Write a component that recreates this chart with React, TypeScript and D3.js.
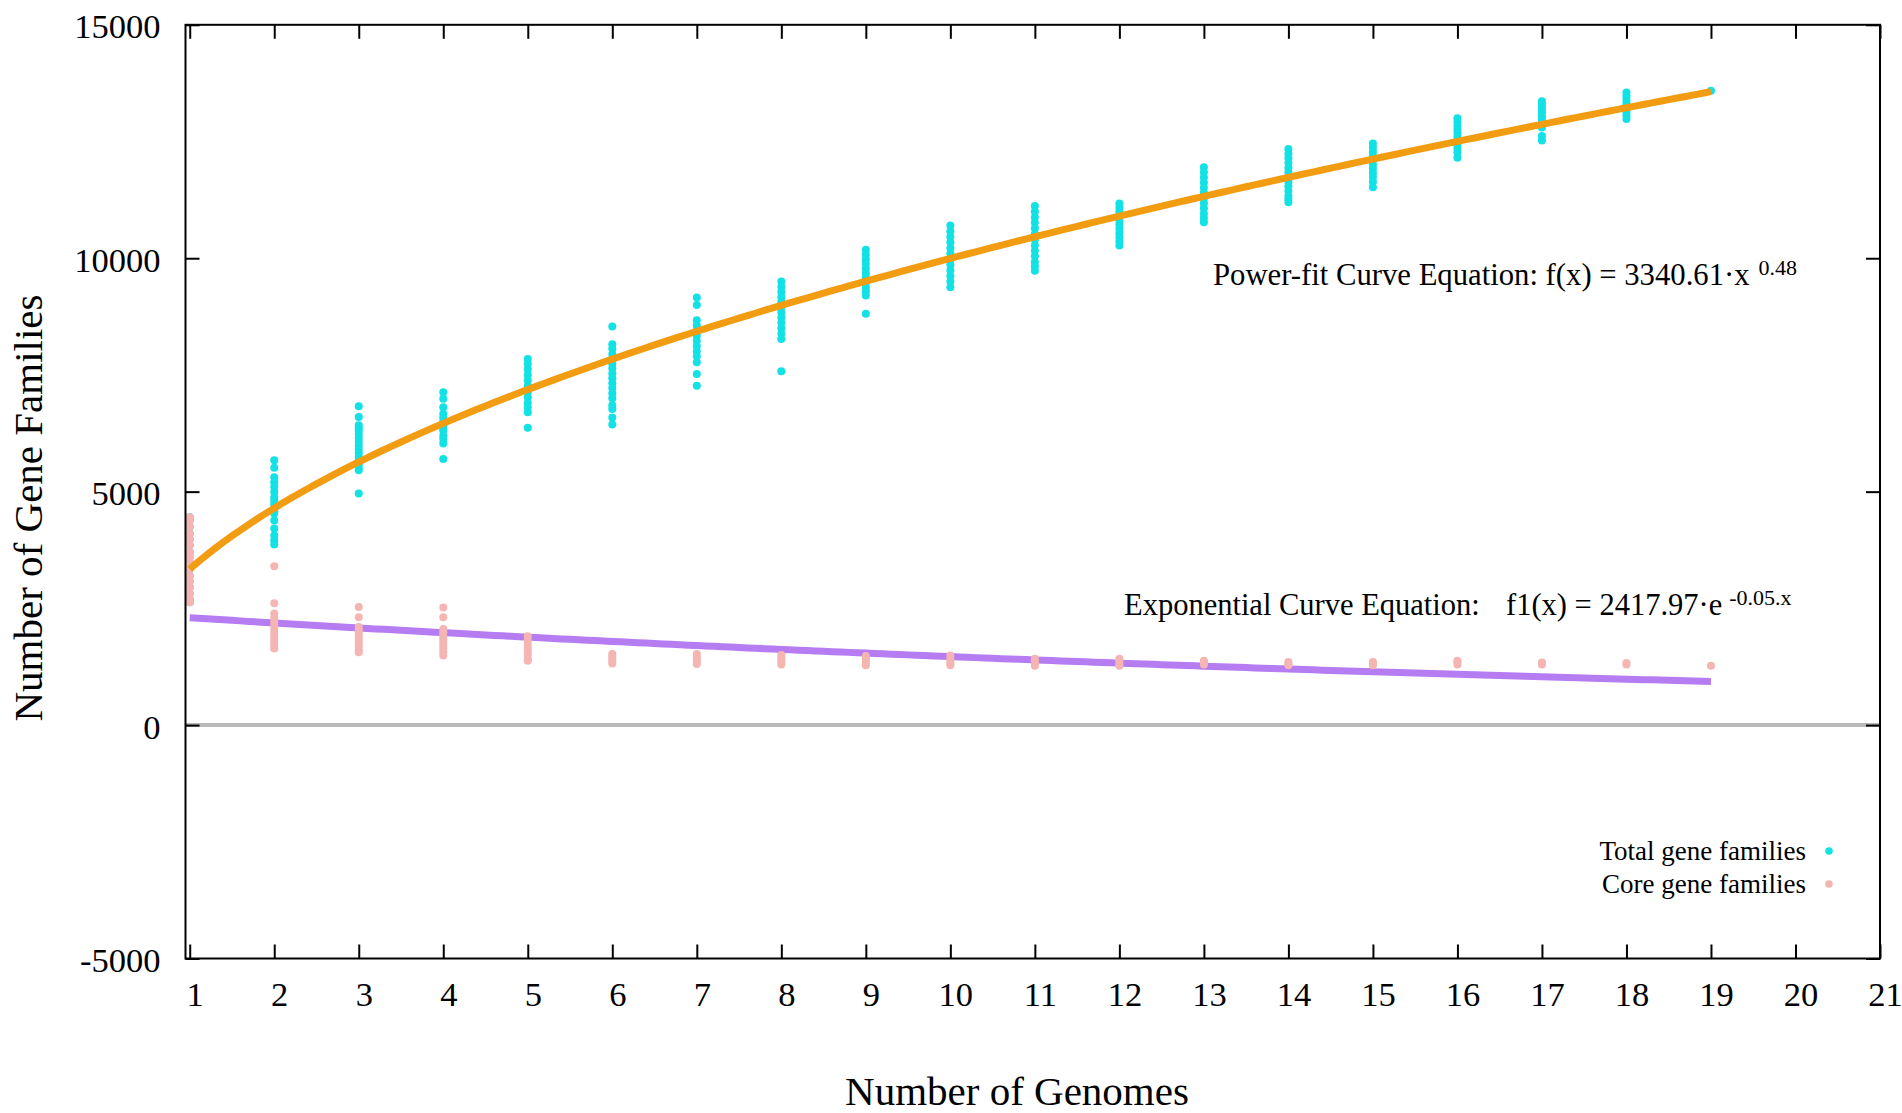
import * as d3 from "d3";
import React, { useRef, useEffect } from "react";

// number of genomes sampled (x positions of the point columns)
const genomeCounts = [1, 2, 3, 4, 5, 6, 7, 8, 9, 10, 11, 12, 13, 14, 15, 16, 17, 18, 19];

// pan-genome (total gene families) per permutation, one list per genome count
const totalFamilies = [
  [4450, 4380, 4250, 4100, 3980, 3850, 3700, 3600, 3480, 3350, 3200, 3080, 2950, 2820, 2700, 2630],
  [5670, 5510, 5310, 5200, 5100, 4990, 4880, 4800, 4720, 4640, 4580, 4530, 4380, 4210, 4060, 3960, 3870],
  [6830, 6600, 6420, 6360, 6310, 6230, 6150, 6070, 5990, 5910, 5830, 5750, 5670, 5590, 5510, 5460, 4960],
  [7130, 6990, 6810, 6670, 6590, 6510, 6430, 6350, 6310, 6200, 6130, 6030, 5700],
  [7840, 7740, 7620, 7500, 7380, 7260, 7140, 7020, 6900, 6800, 6700, 6370],
  [8540, 8160, 8060, 7950, 7850, 7740, 7640, 7530, 7430, 7320, 7220, 7110, 7000, 6850, 6770, 6590, 6440],
  [9160, 9000, 8670, 8560, 8450, 8340, 8230, 8120, 8010, 7900, 7770, 7520, 7270],
  [9500, 9390, 9280, 9170, 9060, 8950, 8840, 8730, 8620, 8500, 8380, 8270, 7580],
  [10180, 10080, 9980, 9880, 9780, 9680, 9580, 9480, 9380, 9290, 9200, 8810],
  [10700, 10580, 10460, 10340, 10220, 10100, 9980, 9860, 9740, 9620, 9500, 9380],
  [11120, 11000, 10880, 10760, 10640, 10520, 10400, 10280, 10160, 10040, 9920, 9830, 9730],
  [11170, 11080, 10990, 10900, 10810, 10720, 10630, 10540, 10450, 10360, 10270],
  [11950, 11840, 11730, 11620, 11510, 11400, 11290, 11180, 11070, 10960, 10860, 10770],
  [12340, 12240, 12140, 12040, 11940, 11840, 11740, 11640, 11540, 11440, 11340, 11270, 11200],
  [12460, 12370, 12280, 12190, 12100, 12010, 11920, 11830, 11740, 11640, 11520],
  [13000, 12920, 12840, 12760, 12680, 12600, 12520, 12440, 12360, 12270, 12150],
  [13360, 13280, 13200, 13120, 13040, 12960, 12880, 12800, 12620, 12520],
  [13550, 13480, 13410, 13340, 13270, 13200, 13130, 13060, 12980],
  [13590],
];

// core genome (core gene families) per permutation
const coreFamilies = [
  [4450, 4380, 4250, 4100, 3980, 3850, 3700, 3600, 3480, 3350, 3200, 3080, 2950, 2820, 2700, 2630],
  [3400, 2610, 2390, 2300, 2220, 2150, 2080, 2000, 1920, 1850, 1780, 1700, 1640],
  [2530, 2310, 2100, 2030, 1960, 1890, 1820, 1750, 1680, 1610, 1560],
  [2520, 2310, 2060, 1990, 1920, 1850, 1780, 1710, 1640, 1570, 1490],
  [1900, 1820, 1740, 1660, 1580, 1500, 1420, 1380],
  [1520, 1470, 1420, 1370, 1320],
  [1520, 1470, 1420, 1370, 1310],
  [1500, 1450, 1400, 1350, 1300],
  [1480, 1430, 1380, 1330, 1280],
  [1490, 1420, 1370, 1320, 1280],
  [1420, 1370, 1320, 1270],
  [1420, 1370, 1320, 1270],
  [1380, 1340, 1300],
  [1350, 1310, 1280],
  [1350, 1310, 1280],
  [1380, 1340, 1300],
  [1340, 1300],
  [1330, 1300],
  [1270],
];

const xTicks = [1, 2, 3, 4, 5, 6, 7, 8, 9, 10, 11, 12, 13, 14, 15, 16, 17, 18, 19, 20, 21];
const yTicks = [-5000, 0, 5000, 10000, 15000];

// fitted curves (exponent of the power fit is shown rounded as 0.48)
const powerA = 3340.61;
const powerB = 0.476;
const expA = 2417.97;
const expB = -0.05;

const legendLabels = ["Total gene families", "Core gene families"];

const FONT = '"Liberation Serif", "Times New Roman", Times, serif';

const App: React.FC = () => {
  const svgRef = useRef<SVGSVGElement | null>(null);

  useEffect(() => {
    const width = 1902;
    const height = 1113;
    const colors = { total: "#12e1e5", core: "#f4b5b3", power: "#f29c12", exp: "#b67cf1" };

    const x = d3.scaleLinear().domain([0.95, 21]).range([185.5, 1880]);
    const y = d3.scaleLinear().domain([-5000, 15000]).range([958.5, 24.8]);
    const [x0, x1] = x.range();
    const [y0, y1] = y.range();

    const svg = d3.select(svgRef.current)
      .attr("width", width)
      .attr("height", height)
      .style("background", "#fff")
      .html("");

    // zero line
    svg.append("line")
      .attr("x1", x0).attr("x2", x1)
      .attr("y1", y(0)).attr("y2", y(0))
      .attr("stroke", "#b9b9b9")
      .attr("stroke-width", 4);

    const toPoints = (lists: number[][]) =>
      genomeCounts.flatMap((g, i) => lists[i].map(v => ({ g, v })));

    // total gene families
    svg.append("g")
      .selectAll("circle")
      .data(toPoints(totalFamilies))
      .join("circle")
      .attr("cx", d => x(d.g))
      .attr("cy", d => y(d.v))
      .attr("r", 4)
      .attr("fill", colors.total);

    const samples = d3.range(1, 19.0001, 0.1);
    const line = d3.line<number[]>().x(d => x(d[0])).y(d => y(d[1]));

    // exponential fit of core
    svg.append("path")
      .attr("d", line(samples.map(s => [s, expA * Math.exp(expB * s)])))
      .attr("fill", "none")
      .attr("stroke", colors.exp)
      .attr("stroke-width", 7);

    // core gene families
    svg.append("g")
      .selectAll("circle")
      .data(toPoints(coreFamilies))
      .join("circle")
      .attr("cx", d => x(d.g))
      .attr("cy", d => y(d.v))
      .attr("r", 4)
      .attr("fill", colors.core);

    // power fit of pan
    svg.append("path")
      .attr("d", line(samples.map(s => [s, powerA * Math.pow(s, powerB)])))
      .attr("fill", "none")
      .attr("stroke", colors.power)
      .attr("stroke-width", 7);

    // axes, ticks pointing inward on all four sides
    const styleAxis = (g: d3.Selection<SVGGElement, unknown, null, undefined>) => {
      g.attr("font-family", FONT).attr("font-size", 34.5);
      g.select(".domain").remove();
      g.selectAll(".tick line").attr("stroke", "#000").attr("stroke-width", 2);
      g.selectAll(".tick text").attr("fill", "#000");
    };

    svg.append("g")
      .attr("transform", `translate(0,${y0})`)
      .call(d3.axisBottom(x).tickValues(xTicks).tickSize(-14).tickPadding(23).tickFormat(d => String(d)))
      .call(styleAxis)
      .selectAll(".tick text")
      .attr("dx", 5);

    svg.append("g")
      .attr("transform", `translate(0,${y1})`)
      .call(d3.axisTop(x).tickValues(xTicks).tickSize(-14).tickFormat(() => ""))
      .call(styleAxis);

    svg.append("g")
      .attr("transform", `translate(${x0},0)`)
      .call(d3.axisLeft(y).tickValues(yTicks).tickSize(-14).tickPadding(25).tickFormat(d => String(d)))
      .call(styleAxis)
      .selectAll(".tick text")
      .attr("dy", "0.38em");

    svg.append("g")
      .attr("transform", `translate(${x1},0)`)
      .call(d3.axisRight(y).tickValues(yTicks).tickSize(-14).tickFormat(() => ""))
      .call(styleAxis);

    // frame
    svg.append("rect")
      .attr("x", x0).attr("y", y1)
      .attr("width", x1 - x0).attr("height", y0 - y1)
      .attr("fill", "none")
      .attr("stroke", "#000")
      .attr("stroke-width", 2);

    // axis titles
    svg.append("text")
      .attr("x", 1017).attr("y", 1105)
      .attr("text-anchor", "middle")
      .attr("font-family", FONT).attr("font-size", 41)
      .text("Number of Genomes");

    svg.append("text")
      .attr("transform", "translate(42,508) rotate(-90)")
      .attr("text-anchor", "middle")
      .attr("font-family", FONT).attr("font-size", 41)
      .text("Number of Gene Families");

    // equations
    const eq1 = svg.append("text")
      .attr("x", 1213).attr("y", 285)
      .attr("font-family", FONT).attr("font-size", 30.7);
    eq1.append("tspan").text("Power-fit Curve Equation: f(x) = 3340.61\u00b7x");
    eq1.append("tspan").attr("dx", 9).attr("dy", -10).attr("font-size", 22).text("0.48");

    svg.append("text")
      .attr("x", 1124).attr("y", 615)
      .attr("font-family", FONT).attr("font-size", 30.5)
      .text("Exponential Curve Equation:");
    const eq2 = svg.append("text")
      .attr("x", 1506).attr("y", 615)
      .attr("font-family", FONT).attr("font-size", 30.5);
    eq2.append("tspan").text("f1(x) = 2417.97\u00b7e");
    eq2.append("tspan").attr("dx", 7).attr("dy", -10).attr("font-size", 22).text("-0.05.x");

    // legend
    const legend = svg.append("g").attr("font-family", FONT).attr("font-size", 27);
    [colors.total, colors.core].forEach((c, i) => {
      legend.append("text")
        .attr("x", 1806).attr("y", 860 + i * 33)
        .attr("text-anchor", "end")
        .text(legendLabels[i]);
      legend.append("circle")
        .attr("cx", 1829).attr("cy", 851 + i * 33)
        .attr("r", 3.8)
        .attr("fill", c);
    });
  }, []);

  return (
    <svg ref={svgRef} style={{ position: "absolute", left: 0, top: 0, display: "block" }}></svg>
  );
};

export default App;
